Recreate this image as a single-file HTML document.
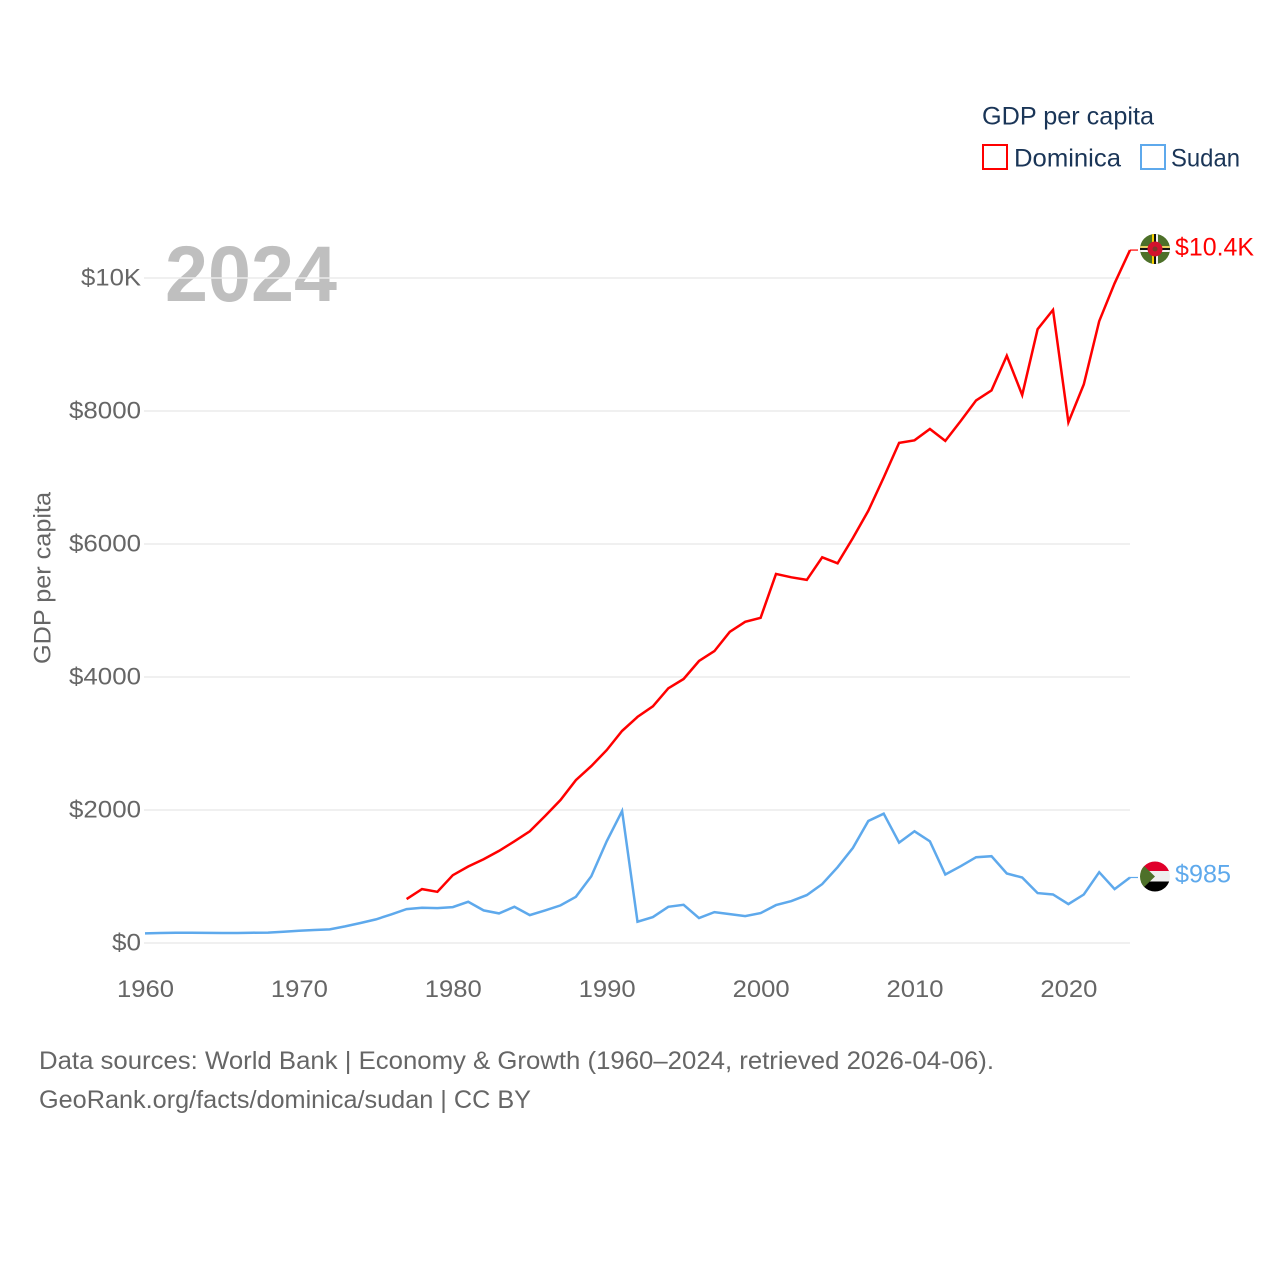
<!DOCTYPE html>
<html lang="en">
<head>
<meta charset="utf-8">
<title>GDP per capita: Dominica and Sudan</title>
<style>
html,body{margin:0;padding:0;background:#fff;width:1280px;height:1280px;overflow:hidden}
svg{display:block}
text{font-family:"Liberation Sans",sans-serif}
</style>
</head>
<body>
<svg id="chart" xmlns="http://www.w3.org/2000/svg" width="1280" height="1280" viewBox="0 0 1280 1280">
  <defs>
    <clipPath id="dm-clip"><circle cx="1155" cy="249" r="15"/></clipPath>
    <clipPath id="sd-clip"><circle cx="1155" cy="876.5" r="15"/></clipPath>
  </defs>
  <rect x="0" y="0" width="1280" height="1280" fill="#fff"/>

  <text x="165" y="301" font-size="79" font-weight="700" fill="#bfbfbf" textLength="172" lengthAdjust="spacingAndGlyphs">2024</text>

  <g id="grid"></g>
  <g id="y-ticks"></g>
  <g id="x-ticks"></g>

  <text transform="translate(50.5,664) rotate(-90)" font-size="24" fill="#666" textLength="172" lengthAdjust="spacingAndGlyphs">GDP per capita</text>

  <g id="series"></g>

  <g clip-path="url(#dm-clip)">
    <rect x="1140" y="234" width="30" height="30" fill="#4d7029"/>
    <rect x="1152" y="234" width="2" height="30" fill="#f5d000"/>
    <rect x="1154" y="234" width="2" height="30" fill="#111"/>
    <rect x="1156" y="234" width="2" height="30" fill="#f4f4f4"/>
    <rect x="1140" y="246" width="30" height="2" fill="#e8d060"/>
    <rect x="1140" y="248" width="30" height="2" fill="#111"/>
    <rect x="1140" y="250" width="30" height="2" fill="#f4f4f4"/>
    <circle cx="1155" cy="249" r="7.5" fill="#d3122d"/>
    <circle cx="1155" cy="249" r="2.5" fill="#7a3a2a"/>
  </g>
  <g clip-path="url(#sd-clip)">
    <rect x="1140" y="861" width="30" height="11" fill="#e0002b"/>
    <rect x="1140" y="871" width="30" height="11" fill="#eeeeee"/>
    <rect x="1140" y="881.5" width="30" height="11" fill="#000"/>
    <polygon points="1139,861 1155,876.5 1139,892" fill="#4d7029"/>
  </g>

  <text x="1175" y="255.5" font-size="25" fill="#ff0000" textLength="79" lengthAdjust="spacingAndGlyphs">$10.4K</text>
  <text x="1175" y="882.5" font-size="25" fill="#5ea9ec" textLength="56" lengthAdjust="spacingAndGlyphs">$985</text>

  <g>
    <text x="982" y="124.5" font-size="25" fill="#1a3557" textLength="172" lengthAdjust="spacingAndGlyphs">GDP per capita</text>
    <g>
      <rect x="983" y="145" width="24" height="24" fill="#fff" stroke="#ff0000" stroke-width="2"/>
      <text x="1014" y="166.5" font-size="25" fill="#1a3557" textLength="107" lengthAdjust="spacingAndGlyphs">Dominica</text>
    </g>
    <g>
      <rect x="1141" y="145" width="24" height="24" fill="#fff" stroke="#5ea9ec" stroke-width="2"/>
      <text x="1171" y="166.5" font-size="25" fill="#1a3557" textLength="69" lengthAdjust="spacingAndGlyphs">Sudan</text>
    </g>
  </g>

  <text x="39" y="1069" font-size="25" fill="#666" textLength="955" lengthAdjust="spacingAndGlyphs">Data sources: World Bank | Economy &amp; Growth (1960–2024, retrieved 2026-04-06).</text>
  <text x="39" y="1108" font-size="25" fill="#666" textLength="492" lengthAdjust="spacingAndGlyphs">GeoRank.org/facts/dominica/sudan | CC BY</text>
</svg>
<script>
const years = [1960,1961,1962,1963,1964,1965,1966,1967,1968,1969,1970,1971,1972,1973,1974,1975,1976,1977,1978,1979,1980,1981,1982,1983,1984,1985,1986,1987,1988,1989,1990,1991,1992,1993,1994,1995,1996,1997,1998,1999,2000,2001,2002,2003,2004,2005,2006,2007,2008,2009,2010,2011,2012,2013,2014,2015,2016,2017,2018,2019,2020,2021,2022,2023,2024];
const dominicaValues = [null,null,null,null,null,null,null,null,null,null,null,null,null,null,null,null,null,660,810,770,1020,1150,1260,1385,1530,1680,1910,2150,2450,2660,2900,3190,3400,3560,3830,3970,4240,4390,4680,4830,4890,5550,5500,5460,5800,5710,6090,6500,7000,7520,7560,7730,7550,7850,8160,8310,8830,8240,9230,9520,7830,8400,9350,9920,10420];
const sudanValues = [145,150,155,153,152,151,150,155,157,170,185,195,205,250,300,355,430,510,530,525,540,620,490,445,545,420,490,565,695,1005,1530,1985,320,390,545,575,375,465,435,405,450,570,630,720,885,1140,1430,1835,1945,1510,1680,1530,1030,1155,1290,1305,1045,985,750,730,585,730,1065,810,985];
const yTickValues = [0,2000,4000,6000,8000,10000];
const yTickLabels = ["$0","$2000","$4000","$6000","$8000","$10K"];
const yTickWidths = [29,72,72,72,72,60];
const xTickValues = [1960,1970,1980,1990,2000,2010,2020];
const xTickLabels = ["1960","1970","1980","1990","2000","2010","2020"];

const SVG_NS = "http://www.w3.org/2000/svg";
function xScale(year){ return 145 + (year - 1960) * 15.39; }
function yScale(value){ return 943 - value * 0.0665; }
function make(tag, parentId){
  const el = document.createElementNS(SVG_NS, tag);
  document.getElementById(parentId).appendChild(el);
  return el;
}
function pointsFor(values){
  const pts = [];
  values.forEach(function(v, i){
    if (v !== null) pts.push(xScale(years[i]).toFixed(1) + "," + yScale(v).toFixed(1));
  });
  return pts.join(" ");
}

yTickValues.forEach(function(value, i){
  const y = yScale(value);
  const line = make("line", "grid");
  
  
  line.setAttribute("x1", 144);
  line.setAttribute("x2", 1130);
  line.setAttribute("y1", y);
  line.setAttribute("y2", y);
  line.setAttribute("stroke", "#ebebeb");
  line.setAttribute("stroke-width", 1.5);
  const label = make("text", "y-ticks");
  
  
  label.setAttribute("x", 141);
  label.setAttribute("y", y + 7.5);
  label.setAttribute("text-anchor", "end");
  label.setAttribute("font-size", 24);
  label.setAttribute("fill", "#666");
  label.setAttribute("textLength", yTickWidths[i]);
  label.setAttribute("lengthAdjust", "spacingAndGlyphs");
  label.textContent = yTickLabels[i];
});

xTickValues.forEach(function(year, i){
  const label = make("text", "x-ticks");
  
  
  label.setAttribute("x", xScale(year) + 0.5);
  label.setAttribute("y", 997);
  label.setAttribute("text-anchor", "middle");
  label.setAttribute("font-size", 24);
  label.setAttribute("fill", "#666");
  label.setAttribute("textLength", 57);
  label.setAttribute("lengthAdjust", "spacingAndGlyphs");
  label.textContent = xTickLabels[i];
});

const sudanLine = make("polyline", "series");


sudanLine.setAttribute("points", pointsFor(sudanValues));
sudanLine.setAttribute("fill", "none");
sudanLine.setAttribute("stroke", "#5ea9ec");
sudanLine.setAttribute("stroke-width", 2.5);

const dominicaLine = make("polyline", "series");


dominicaLine.setAttribute("points", pointsFor(dominicaValues));
dominicaLine.setAttribute("fill", "none");
dominicaLine.setAttribute("stroke", "#ff0000");
dominicaLine.setAttribute("stroke-width", 2.5);

const lastIndex = years.length - 1;
const sudanLeader = make("line", "series");


sudanLeader.setAttribute("x1", xScale(years[lastIndex]));
sudanLeader.setAttribute("x2", 1138);
sudanLeader.setAttribute("y1", yScale(sudanValues[lastIndex]));
sudanLeader.setAttribute("y2", yScale(sudanValues[lastIndex]));
sudanLeader.setAttribute("stroke", "#5ea9ec");
sudanLeader.setAttribute("stroke-width", 1.2);

const dominicaLeader = make("line", "series");


dominicaLeader.setAttribute("x1", xScale(years[lastIndex]));
dominicaLeader.setAttribute("x2", 1138);
dominicaLeader.setAttribute("y1", yScale(dominicaValues[lastIndex]));
dominicaLeader.setAttribute("y2", yScale(dominicaValues[lastIndex]));
dominicaLeader.setAttribute("stroke", "#ff0000");
dominicaLeader.setAttribute("stroke-width", 1.2);
</script>
</body>
</html>
